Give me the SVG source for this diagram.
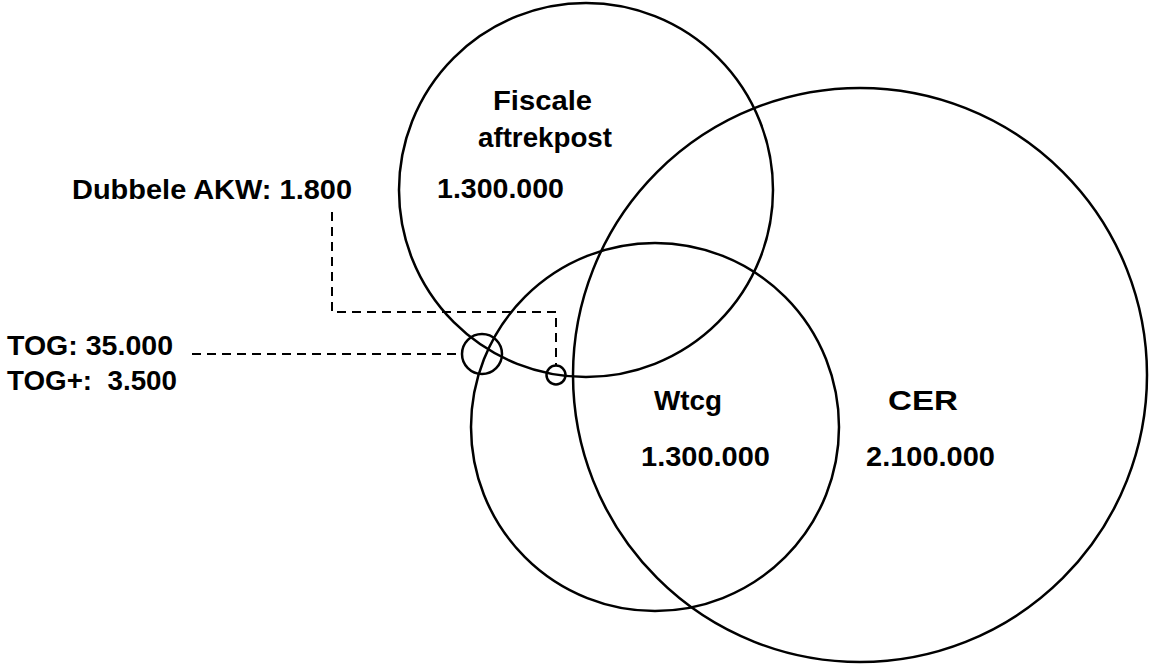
<svg xmlns="http://www.w3.org/2000/svg" width="1151" height="666" viewBox="0 0 1151 666">
<style>
.c{fill:none;stroke:#000;stroke-width:2.5}
.d{fill:none;stroke:#000;stroke-width:2;stroke-dasharray:9,6}
.t{font-family:"Liberation Sans",Arial,sans-serif;font-weight:bold;font-size:28px;fill:#000;white-space:pre}
</style>
<rect width="1151" height="666" fill="#fff"/>
<g id="connectors">
<path class="d" d="M332,212 V312 H556 V365"/>
<path class="d" d="M192,354 H462"/>
</g>
<g id="fiscale">
<circle class="c" cx="586" cy="190" r="187"/>
<text class="t" x="493" y="110" textLength="99" lengthAdjust="spacingAndGlyphs">Fiscale</text>
<text class="t" x="478" y="147" textLength="134" lengthAdjust="spacingAndGlyphs">aftrekpost</text>
<text class="t" x="437" y="198" textLength="127" lengthAdjust="spacingAndGlyphs">1.300.000</text>
</g>
<g id="wtcg">
<circle class="c" cx="655" cy="427" r="184"/>
<text class="t" x="654" y="410" textLength="68" lengthAdjust="spacingAndGlyphs">Wtcg</text>
<text class="t" x="641" y="466" textLength="129" lengthAdjust="spacingAndGlyphs">1.300.000</text>
</g>
<g id="cer">
<circle class="c" cx="860" cy="375" r="287"/>
<text class="t" x="888" y="410" textLength="70" lengthAdjust="spacingAndGlyphs">CER</text>
<text class="t" x="866" y="466" textLength="129" lengthAdjust="spacingAndGlyphs">2.100.000</text>
</g>
<g id="tog">
<circle class="c" cx="482" cy="354" r="20"/>
<text class="t" x="7" y="355" textLength="166" lengthAdjust="spacingAndGlyphs">TOG: 35.000</text>
<text class="t" x="7" y="390" textLength="170" lengthAdjust="spacingAndGlyphs" xml:space="preserve">TOG+:  3.500</text>
</g>
<g id="akw">
<circle class="c" cx="556" cy="375" r="9.5"/>
<text class="t" x="72" y="199" textLength="280" lengthAdjust="spacingAndGlyphs">Dubbele AKW: 1.800</text>
</g>
</svg>
